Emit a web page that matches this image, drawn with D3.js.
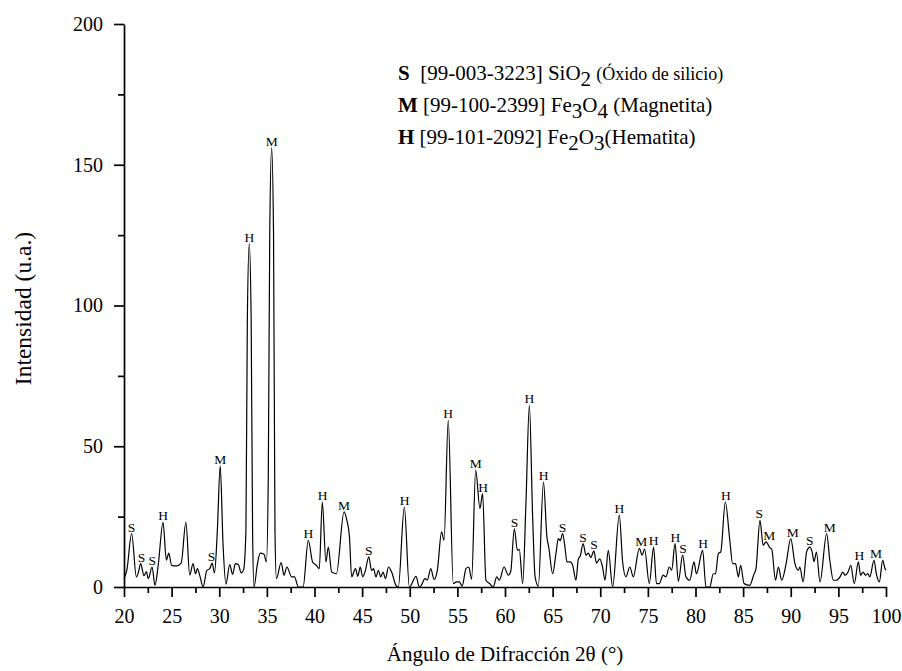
<!DOCTYPE html>
<html>
<head>
<meta charset="utf-8">
<script src="https://cdn.jsdelivr.net/npm/d3@7"></script>
<style>
  body { margin: 0; background: #fff; }
  #chart { width: 902px; height: 671px; }
  svg text { fill: #000; }
  .chart-xrd__line { fill: none; stroke: #000; stroke-width: 1.2; stroke-linejoin: round; }
  .chart-xrd__xAxis path, .chart-xrd__yAxis path,
  .chart-xrd__xAxis line, .chart-xrd__yAxis line,
  .chart-xrd__xMinor line, .chart-xrd__yMinor line { stroke: #000; stroke-width: 1.7; }
  .chart-xrd__xMinor path, .chart-xrd__yMinor path { display: none; }
</style>
</head>
<body>
<div id="chart"></div>
<script>
// diffractogram: 2theta (deg) and intensity (u.a.)
const twoTheta = [
  20.0, 20.3, 20.8, 21.3, 21.5, 21.75, 22.1, 22.35, 22.55, 22.95, 23.25, 23.6, 24.1, 24.45, 24.7, 25.0,
  25.5, 26.0, 26.5, 26.9, 27.25, 27.5, 27.7, 28.0, 28.3, 28.7, 29.0, 29.25, 29.5, 29.8, 30.1, 30.4,
  30.7, 31.1, 31.4, 31.7, 32.0, 32.3, 32.55, 32.8, 32.95, 33.15, 33.35, 33.5, 33.65, 34.0, 34.3, 34.7,
  34.95, 35.15, 35.3, 35.5, 35.7, 35.85, 36.0, 36.5, 36.8, 37.1, 37.6, 37.9, 38.3, 38.8, 39.35, 39.8,
  40.2, 40.5, 40.82, 41.2, 41.45, 41.8, 42.3, 43.1, 43.4, 43.67, 43.9, 44.3, 44.55, 44.8, 45.06, 45.3,
  45.7, 45.99, 46.2, 46.46, 46.7, 46.95, 47.2, 47.45, 47.77, 48.1, 48.55, 48.8, 49.43, 49.96, 50.66, 51.0,
  51.2, 51.6, 51.85, 52.2, 52.56, 52.9, 53.34, 53.6, 54.04, 54.57, 54.9, 55.2, 55.5, 55.9, 56.2, 56.5,
  56.92, 57.37, 57.65, 58.0, 58.4, 58.77, 59.13, 59.4, 59.9, 60.35, 60.6, 60.98, 61.3, 61.5, 61.86, 62.2,
  62.56, 62.9, 63.16, 63.5, 64.04, 64.4, 64.6, 65.0, 65.35, 65.6, 65.8, 66.05, 66.3, 66.5, 66.85, 67.1,
  67.45, 67.7, 67.9, 68.2, 68.5, 68.75, 69.0, 69.34, 69.6, 69.95, 70.24, 70.5, 70.84, 71.3, 72.0, 72.35,
  72.7, 73.1, 73.47, 74.1, 74.4, 74.65, 75.15, 75.6, 75.9, 76.2, 76.6, 76.9, 77.25, 77.5, 77.85, 78.2,
  78.65, 79.0, 79.4, 79.84, 80.1, 80.75, 81.1, 81.5, 81.87, 82.1, 82.4, 82.65, 83.13, 83.6, 83.9, 84.2,
  84.5, 84.74, 85.1, 85.7, 86.1, 86.35, 86.77, 87.1, 87.4, 87.55, 87.8, 88.0, 88.4, 88.7, 89.05, 89.5,
  90.0, 90.44, 90.8, 90.95, 91.3, 91.66, 92.0, 92.25, 92.44, 92.7, 93.07, 93.77, 94.1, 94.47, 94.8, 95.17,
  95.46, 95.7, 96.04, 96.3, 96.67, 97.1, 97.33, 97.6, 97.85, 98.1, 98.3, 98.74, 99.0, 99.3, 99.65, 99.9,
  100.0
];
const intensity = [
  3, 6, 19, 3.6, 5, 8.3, 4, 5.5, 3, 7.1, 0.6, 8, 23, 9.5, 12, 7.7,
  7.5, 8.5, 23, 4.2, 8.3, 4.7, 6.5, 3.5, 0, 5.9, 6.5, 8.5, 5, 20, 43, 15,
  1, 8, 4.5, 8.3, 8, 5, 6, 20, 95, 122, 95, 20, 0, 8, 12, 11.6,
  8.9, 40, 125, 156, 125, 20, 3, 8.7, 4.2, 7.1, 3.6, 3.6, 0, 0, 16.6, 8.9,
  7.7, 6.5, 30.2, 8.9, 14.2, 5.3, 4.7, 26.7, 23.7, 17.8, 3.6, 6.5, 3.8, 7.1, 3.6, 5.3,
  10.7, 5.9, 6.5, 3.6, 5.9, 3.6, 5.3, 3, 7.1, 5.3, 0.6, 0, 28.4, 0, 3.8, 0,
  0.5, 3, 2.5, 6.5, 2.7, 6, 19.6, 16.6, 59.3, 1.2, 1.8, 1.8, 0.3, 6.5, 7.1, 2.8,
  41.5, 27.9, 33.2, 2.4, 1.2, 0, 3.6, 2.4, 7.1, 4.2, 5.5, 20.7, 13, 13.4, 1.2, 30,
  64.6, 25, 3.6, 0.3, 37.3, 17.8, 14, 4.7, 11.9, 17.2, 16.5, 19, 14, 8.9, 8.9, 7.7,
  2.4, 10, 11, 15.4, 11.3, 12, 10.5, 12.8, 8.5, 10, 7.1, 2.4, 13, 0, 25.5, 8.9,
  3.6, 7.1, 3.6, 13.7, 11.3, 13.5, 1.2, 14.2, 1.2, 1.2, 4.2, 3.6, 7.1, 6, 15.4, 2,
  11.3, 3.6, 2.4, 8.9, 4.7, 13, 0, 0, 4.7, 4.7, 11.9, 12.5, 30.2, 16.6, 8.3, 8.3,
  3.6, 7.7, 1.2, 0.6, 4.2, 6.5, 23.7, 14.8, 16, 15.5, 14, 13.5, 2.4, 7.1, 2.4, 8,
  17.2, 8.3, 5.9, 7.1, 1.8, 12.4, 14.2, 12.4, 9, 12.4, 1.8, 19, 9.5, 2.4, 2.4, 3.6,
  5.3, 4.2, 5.5, 7.7, 1.2, 8.9, 4.2, 5.3, 4.2, 4.8, 3.6, 9.5, 4.5, 1.8, 9.5, 6.5,
  6
];

// phase marks over the peaks
const peakPhase = ["S", "S", "S", "H", "S", "M", "H", "M", "H", "H", "M", "S", "H", "H", "M", "H",
  "S", "H", "H", "S", "S", "S", "H", "M", "H", "H", "S", "H", "H", "S", "M", "M", "S", "M", "H", "M"];
const peakTheta = [20.8, 21.85, 22.97, 24.1, 29.2, 30.1, 33.15, 35.5, 39.35, 40.85, 43.1, 45.7, 49.45, 54.04, 56.92, 57.7,
  61.0, 62.56, 64.05, 66.05, 68.2, 69.35, 72.0, 74.3, 75.6, 77.9, 78.7, 80.8, 83.2, 86.7, 87.75, 90.2, 92.0, 94.1, 97.2, 98.95];
const peakTop = [19, 8.3, 7.1, 23, 8.5, 43, 122, 156, 16.6, 30.2, 26.7, 10.7, 28.4, 59.3, 41.5, 33.2,
  20.7, 64.6, 37.3, 19, 15.4, 12.8, 25.5, 13.7, 14.2, 15.4, 11.3, 13, 30.2, 23.7, 16, 17.2, 14.2, 19, 8.9, 9.5];

const xTicks = [20, 25, 30, 35, 40, 45, 50, 55, 60, 65, 70, 75, 80, 85, 90, 95, 100];
const xMinorTicks = [22.5, 27.5, 32.5, 37.5, 42.5, 47.5, 52.5, 57.5, 62.5, 67.5, 72.5, 77.5, 82.5, 87.5, 92.5, 97.5];
const yTicks = [0, 50, 100, 150, 200];
const yMinorTicks = [25, 75, 125, 175];

const legendKeys = ["S", "M", "H"];
const legendCodes = ["[99-003-3223]", "[99-100-2399]", "[99-101-2092]"];

const SERIF = '"Liberation Serif"';

class XrdChart {

    constructor(div){
        this.settings = {
            mainClass: 'chart-xrd',
            container: div,
            dimension: {
                width: 902,
                height: 671,
                margins: { left: 124, right: 16, top: 24, bottom: 84 },
            },
        };
        this.elements = {};
        this.data = { points: [], peaks: [] };
    }

    renderChart(){
        this.loadData();
        this.createBound();
        this.createXaxis();
        this.createYaxis();
        this.drawLine();
        this.drawPeakLabels();
        this.drawLegend();
    }

    loadData(){
        this.data.points = twoTheta.map((t, i) => ({ t, v: intensity[i] }));
        this.data.peaks = peakTheta.map((t, i) => ({ t, v: peakTop[i], phase: peakPhase[i] }));
    }

    createBound(){
        const { width, height, margins } = this.settings.dimension;
        this.settings.dimension.boundWidth = width - margins.left - margins.right;
        this.settings.dimension.boundHeight = height - margins.top - margins.bottom;

        const svg = d3.select(this.settings.container).append('svg')
            .attr('width', width).attr('height', height);
        const bound = svg.append('g')
            .attr('transform', `translate(${margins.left},${margins.top})`);

        this.elements.svg = svg;
        this.elements.bound = bound;
    }

    //AXIS ------------------------
    createXaxis(){
        const { mainClass, dimension: { boundWidth, boundHeight } } = this.settings;
        const { bound } = this.elements;

        const xScale = d3.scaleLinear().domain([20, 100]).range([0, boundWidth]);
        this.elements.xScale = xScale;

        bound.append('g')
            .classed(`${mainClass}__xMinor`, true)
            .attr('transform', `translate(0,${boundHeight})`)
            .call(d3.axisBottom(xScale).tickValues(xMinorTicks).tickSize(6).tickFormat(''));

        const xAxis = bound.append('g')
            .classed(`${mainClass}__xAxis`, true)
            .attr('transform', `translate(0,${boundHeight})`)
            .call(d3.axisBottom(xScale).tickValues(xTicks).tickSize(10).tickSizeOuter(0).tickPadding(12));
        xAxis.selectAll('text')
            .attr('font-family', SERIF)
            .attr('font-size', 20);

        this.elements.svg.append('text')
            .attr('x', this.settings.dimension.margins.left + boundWidth / 2)
            .attr('y', 661)
            .attr('text-anchor', 'middle')
            .attr('font-family', SERIF)
            .attr('font-size', 21)
            .text('Ángulo de Difracción 2θ (°)');
    }

    createYaxis(){
        const { mainClass, dimension: { boundHeight, margins } } = this.settings;
        const { bound } = this.elements;

        const yScale = d3.scaleLinear().domain([0, 200]).range([boundHeight, 0]);
        this.elements.yScale = yScale;

        bound.append('g')
            .classed(`${mainClass}__yMinor`, true)
            .call(d3.axisLeft(yScale).tickValues(yMinorTicks).tickSize(6).tickFormat(''));

        const yAxis = bound.append('g')
            .classed(`${mainClass}__yAxis`, true)
            .call(d3.axisLeft(yScale).tickValues(yTicks).tickSize(10).tickSizeOuter(0).tickPadding(11));
        yAxis.selectAll('text')
            .attr('font-family', SERIF)
            .attr('font-size', 20);

        this.elements.svg.append('text')
            .attr('transform', `translate(31,${margins.top + boundHeight / 2 + 3}) rotate(-90)`)
            .attr('text-anchor', 'middle')
            .attr('font-family', SERIF)
            .attr('font-size', 23.5)
            .text('Intensidad (u.a.)');
    }

    //DATA ELEMENTS
    drawLine(){
        const { bound, xScale, yScale } = this.elements;
        const line = d3.line()
            .x((d) => xScale(d.t))
            .y((d) => yScale(d.v))
            .curve(d3.curveMonotoneX);

        bound.append('path')
            .datum(this.data.points)
            .classed(`${this.settings.mainClass}__line`, true)
            .attr('d', line);
    }

    drawPeakLabels(){
        const { bound, xScale, yScale } = this.elements;
        bound.selectAll('.peak-label').data(this.data.peaks)
            .join('text')
            .attr('class', 'peak-label')
            .attr('x', (d) => xScale(d.t))
            .attr('y', (d) => yScale(d.v) - 2)
            .attr('text-anchor', 'middle')
            .attr('font-family', SERIF)
            .attr('font-size', 13.5)
            .text((d) => d.phase);
    }

    drawLegend(){
        const { svg } = this.elements;
        const x = 398;
        const rows = [80, 112, 144];

        // each row built by hand because of the subscripts
        const formulas = [
            [['Si', 0], ['O', 0], ['2', 1], [' ', 0]],
            [['Fe', 0], ['3', 1], ['O', 0], ['4', 1], [' (Magnetita)', 0]],
            [['Fe', 0], ['2', 1], ['O', 0], ['3', 1], ['(Hematita)', 0]],
        ];

        legendKeys.forEach((key, i) => {
            const t = svg.append('text')
                .attr('x', x).attr('y', rows[i])
                .attr('font-family', SERIF)
                .attr('font-size', 21);
            t.append('tspan').attr('font-weight', 'bold').text(key + (i === 0 ? '\u00a0\u00a0' : '\u00a0'));
            t.append('tspan').text(legendCodes[i] + ' ');
            let low = 0;
            formulas[i].forEach(([txt, sub]) => {
                const shift = (sub ? 5.5 : 0) - low;
                t.append('tspan').attr('dy', shift).text(txt);
                low = sub ? 5.5 : 0;
            });
            if (i === 0) {
                t.append('tspan').attr('dy', -low).attr('font-size', 18).text('(Óxido de silicio)');
            }
        });
    }
}

new XrdChart(document.getElementById('chart')).renderChart();
</script>
</body>
</html>
